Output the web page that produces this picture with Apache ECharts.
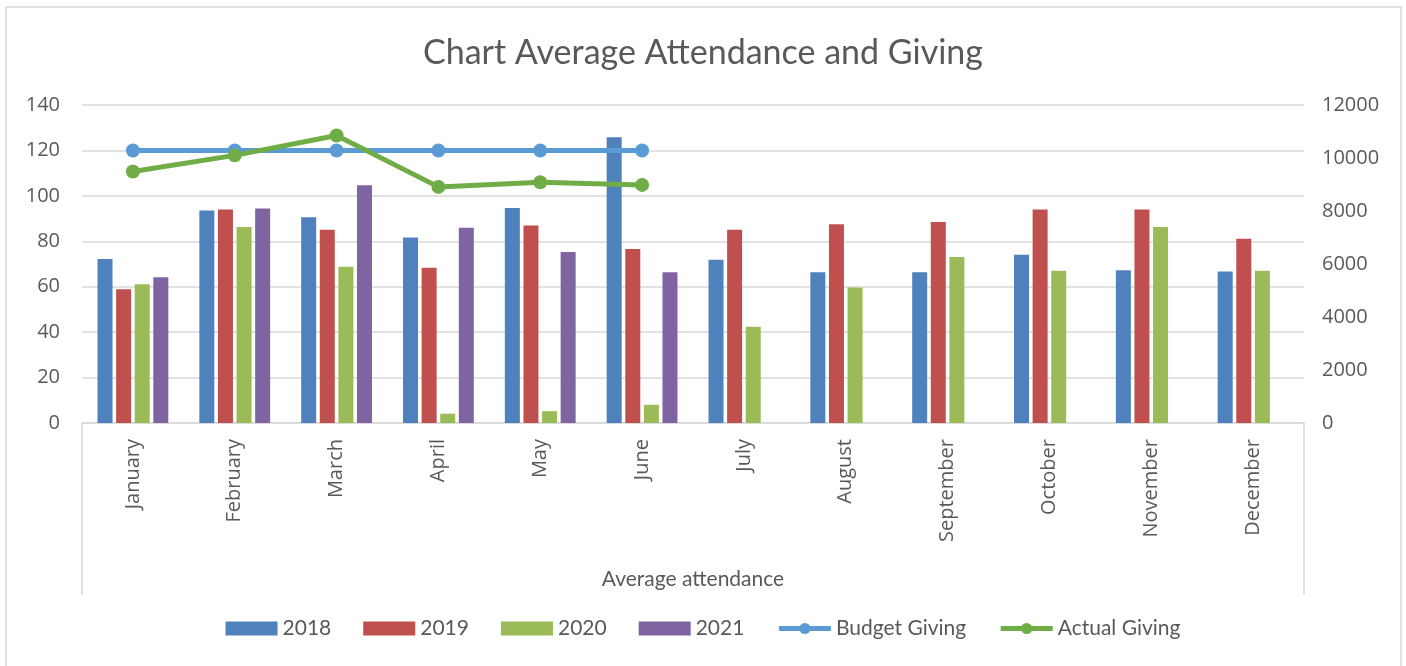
<!DOCTYPE html>
<html>
<head>
<meta charset="utf-8">
<script src="https://cdn.jsdelivr.net/npm/echarts@6/dist/echarts.min.js"></script>
<style>
  html, body { margin: 0; padding: 0; background: #fff; }
  #chart { width: 1406px; height: 666px; }
</style>
</head>
<body>
<div id="chart"></div>
<script>
const months = ["January", "February", "March", "April", "May", "June",
  "July", "August", "September", "October", "November", "December"];

const att2018 = [72.2, 93.6, 90.6, 81.7, 94.7, 125.8, 71.9, 66.4, 66.4, 74.1, 67.3, 66.7];
const att2019 = [58.9, 94.0, 85.1, 68.3, 87.0, 76.6, 85.1, 87.5, 88.5, 94.0, 94.0, 81.1];
const att2020 = [61.1, 86.3, 68.8, 4.1, 5.2, 8.0, 42.4, 59.6, 73.1, 67.0, 86.3, 67.0];
const att2021 = [64.2, 94.4, 104.7, 86.0, 75.3, 66.4, null, null, null, null, null, null];

const budgetGiving = [10285, 10285, 10285, 10285, 10285, 10285, null, null, null, null, null, null];
const actualGiving = [9490, 10100, 10850, 8910, 9085, 8985, null, null, null, null, null, null];

const leftTicks = { min: 0, max: 140, interval: 20 };
const rightTicks = { min: 0, max: 12000, interval: 2000 };

const FONT = "Lato, 'Liberation Sans', sans-serif";
const LABEL_FONT = "'Open Sans', 'Noto Sans', sans-serif";
const TEXT = "#595959";
const GRID_LINE = "#D9D9D9";

const chart = echarts.init(document.getElementById("chart"));

function barSeries(name, data, color) {
  return {
    name: name,
    type: "bar",
    data: data,
    barWidth: 15,
    barGap: "24%",
    itemStyle: { color: color },
  };
}

function lineSeries(name, data, color) {
  return {
    name: name,
    type: "line",
    yAxisIndex: 1,
    data: data,
    symbol: "circle",
    symbolSize: 14,
    lineStyle: { color: color, width: 5 },
    itemStyle: { color: color },
    z: 5,
  };
}

chart.setOption({
  backgroundColor: "#fff",
  animation: false,
  title: {
    text: "Chart Average Attendance and Giving",
    left: "center",
    top: 31,
    textStyle: { fontFamily: FONT, fontSize: 34, fontWeight: "normal", color: TEXT },
  },
  legend: {
    bottom: 22,
    left: "center",
    itemGap: 32,
    itemWidth: 52,
    itemHeight: 14,
    textStyle: { fontFamily: FONT, fontSize: 21, color: TEXT },
    data: [
      { name: "2018", icon: "rect", itemHeight: 13 },
      { name: "2019", icon: "rect" },
      { name: "2020", icon: "rect" },
      { name: "2021", icon: "rect" },
      { name: "Budget Giving", lineStyle: { width: 5 }, itemStyle: { borderWidth: 0 } },
      { name: "Actual Giving", lineStyle: { width: 5 }, itemStyle: { borderWidth: 0 } },
    ],
  },
  grid: { left: 82, right: 102, top: 105, bottom: 243, containLabel: false },
  xAxis: {
    type: "category",
    data: months,
    name: "Average attendance",
    nameLocation: "middle",
    nameGap: 146,
    nameTextStyle: { fontFamily: FONT, fontSize: 21, color: TEXT },
    axisLine: { lineStyle: { color: GRID_LINE, width: 1.5 } },
    axisTick: { show: false },
    axisLabel: {
      rotate: 90,
      interval: 0,
      margin: 16,
      fontFamily: LABEL_FONT,
      fontSize: 20,
      color: TEXT,
    },
  },
  yAxis: [
    {
      type: "value",
      min: leftTicks.min,
      max: leftTicks.max,
      interval: leftTicks.interval,
      axisLine: { show: false },
      axisTick: { show: false },
      axisLabel: { fontFamily: LABEL_FONT, fontSize: 20, color: TEXT, margin: 22 },
      splitLine: { lineStyle: { color: GRID_LINE, width: 1.5 } },
    },
    {
      type: "value",
      min: rightTicks.min,
      max: rightTicks.max,
      interval: rightTicks.interval,
      position: "right",
      axisLine: { show: false },
      axisTick: { show: false },
      axisLabel: {
        fontFamily: LABEL_FONT, fontSize: 20, color: TEXT, margin: 18, align: "left",
        formatter: (v) => String(v),
      },
      splitLine: { show: false },
    },
  ],
  series: [
    barSeries("2018", att2018, "#4F81BD"),
    barSeries("2019", att2019, "#C0504D"),
    barSeries("2020", att2020, "#9BBB59"),
    barSeries("2021", att2021, "#8064A2"),
    lineSeries("Budget Giving", budgetGiving, "#5B9BD5"),
    lineSeries("Actual Giving", actualGiving, "#70AD47"),
  ],
  graphic: [
    {
      type: "rect",
      shape: { x: 6, y: 7, width: 1395, height: 670 },
      style: { fill: null, stroke: GRID_LINE, lineWidth: 1.5 },
      silent: true,
    },
    {
      type: "line",
      shape: { x1: 82, y1: 423, x2: 82, y2: 595 },
      style: { stroke: GRID_LINE, lineWidth: 1.5 },
      silent: true,
    },
    {
      type: "line",
      shape: { x1: 1304, y1: 423, x2: 1304, y2: 595 },
      style: { stroke: GRID_LINE, lineWidth: 1.5 },
      silent: true,
    },
  ],
});
</script>
</body>
</html>
